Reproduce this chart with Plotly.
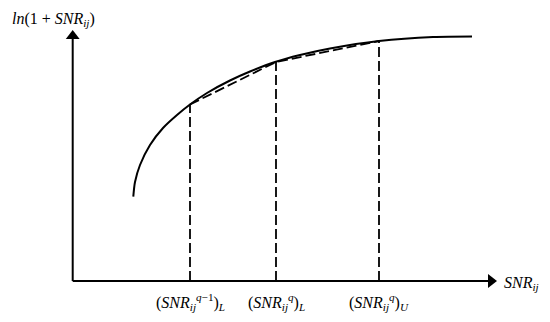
import plotly.graph_objects as go

# Curve ln(1+SNR) (arbitrary diagram units)
curve_x = [6.06, 6.23, 6.73, 7.73, 9.03, 10.43, 11.73, 13.43, 15.73, 17.73, 20.23, 22.73, 25.73, 30.63, 36.03, 39.93]
curve_y = [8.43, 9.9, 11.6, 13.6, 15.3, 16.6, 17.65, 18.8, 20.05, 20.95, 21.9, 22.6, 23.25, 24.0, 24.4, 24.45]

# Breakpoints for piecewise-linear approximation
break_x = [11.73, 20.33, 30.63]
break_y = [17.65, 21.9, 24.0]
break_labels = [
    "(<i>SNR</i><sub><i>ij</i></sub><sup><i>q</i>−1</sup>)<sub><i>L</i></sub>",
    "(<i>SNR</i><sub><i>ij</i></sub><sup><i>q</i></sup>)<sub><i>L</i></sub>",
    "(<i>SNR</i><sub><i>ij</i></sub><sup><i>q</i></sup>)<sub><i>U</i></sub>",
]

# Axis extents
x_axis_end = 41.83
y_axis_end = 24.5
y_title = "<i>ln</i>(1 + <i>SNR</i><sub><i>ij</i></sub>)"
x_title = "<i>SNR</i><sub><i>ij</i></sub>"

FONT = "Liberation Serif"
fig = go.Figure()

# axes
fig.add_trace(go.Scatter(x=[0, x_axis_end], y=[0, 0], mode="lines",
                         line=dict(color="black", width=2), hoverinfo="skip"))
fig.add_trace(go.Scatter(x=[0, 0], y=[0, y_axis_end], mode="lines",
                         line=dict(color="black", width=2), hoverinfo="skip"))
fig.add_trace(go.Scatter(x=[x_axis_end], y=[0], mode="markers",
                         marker=dict(symbol="triangle-right", size=12, color="black"), hoverinfo="skip"))
fig.add_trace(go.Scatter(x=[0], y=[y_axis_end], mode="markers",
                         marker=dict(symbol="triangle-up", size=12, color="black"), hoverinfo="skip"))

# curve
fig.add_trace(go.Scatter(x=curve_x, y=curve_y, mode="lines",
                         line=dict(color="black", width=2, shape="spline", smoothing=0.8),
                         hoverinfo="skip"))

# dashed chord
fig.add_trace(go.Scatter(x=break_x, y=break_y, mode="lines",
                         line=dict(color="black", width=1.8, dash="10px,4px"), hoverinfo="skip"))

# dashed verticals
for bx, by in zip(break_x, break_y):
    fig.add_trace(go.Scatter(x=[bx, bx], y=[0, by], mode="lines",
                             line=dict(color="black", width=1.8, dash="10px,4px"), hoverinfo="skip"))

# labels
for bx, lab in zip(break_x, break_labels):
    fig.add_annotation(x=bx, y=0, text=lab, showarrow=False, xanchor="center", yanchor="top",
                       yshift=-8, font=dict(family=FONT, size=16, color="black"))

fig.add_annotation(x=x_axis_end, y=0, text=x_title, showarrow=False, xanchor="left", yanchor="middle",
                   xshift=11, yshift=-2, font=dict(family=FONT, size=16, color="black"))
fig.add_annotation(x=0, y=y_axis_end, text=y_title, showarrow=False, xanchor="left", yanchor="bottom",
                   xshift=-63, yshift=5, font=dict(family=FONT, size=16, color="black"))

# page body has an 8px margin; figure sized so it fits the 550x322 window
fig.update_layout(
    width=542, height=314, autosize=False,
    margin=dict(l=0, r=0, t=0, b=0),
    paper_bgcolor="white", plot_bgcolor="white",
    showlegend=False,
    xaxis=dict(range=[-6.47, 47.73], visible=False, fixedrange=True),
    yaxis=dict(range=[-4.1, 27.3], visible=False, fixedrange=True),
)

fig.write_html("out.html")
